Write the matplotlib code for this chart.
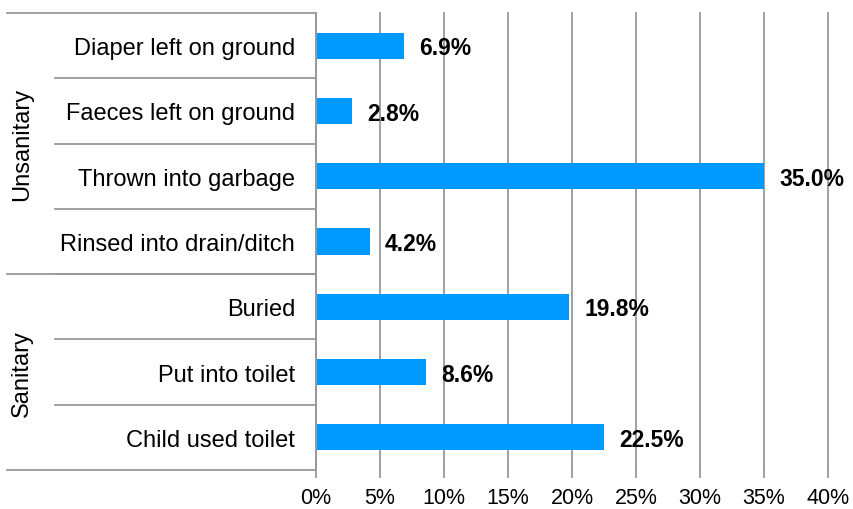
import matplotlib
matplotlib.use('Agg')
import matplotlib.pyplot as plt
import matplotlib.transforms as mtransforms
import numpy as np

# Disposal of child faeces, listed bottom to top
categories = ['Child used toilet', 'Put into toilet', 'Buried',
              'Rinsed into drain/ditch', 'Thrown into garbage',
              'Faeces left on ground', 'Diaper left on ground']
shares = [22.5, 8.6, 19.8, 4.2, 35.0, 2.8, 6.9]
groups = ['Sanitary', 'Unsanitary']
group_sizes = [3, 4]
xticks = np.arange(0, 45, 5)

plt.rcParams['font.family'] = ['Liberation Sans', 'DejaVu Sans']

fig = plt.figure(figsize=(8.54, 5.10), dpi=100)
ax = fig.add_axes([0.370, 0.0765, 0.5996, 0.896])

grey = '#999999'
y = np.arange(len(categories))
ax.barh(y, shares, height=0.4, color='#0099FF', zorder=2)

for yi, v in zip(y, shares):
    ax.annotate('{:.1f}%'.format(v), xy=(v, yi), xytext=(11, -1.5),
                textcoords='offset points', ha='left', va='center',
                fontsize=16.5, fontweight='bold', zorder=3)

ax.set_xlim(0, 40)
ax.set_ylim(-0.5, len(categories) - 0.5)
ax.set_xticks(xticks)
ax.set_xticklabels(['{}%'.format(t) for t in xticks], fontsize=15.5)
ax.set_yticks(y)
ax.set_yticklabels(categories, fontsize=17)
ax.grid(axis='x', color=grey, lw=1.3, zorder=0)
for gl in ax.get_xgridlines():
    gl.set_clip_on(False)
ax.tick_params(axis='x', length=6, width=1.3, color=grey, pad=6)
ax.tick_params(axis='y', length=0, pad=15)

for side in ['top', 'right', 'bottom']:
    ax.spines[side].set_visible(False)
ax.spines['left'].set_color(grey)
ax.spines['left'].set_linewidth(1.3)

# Row separators and group brackets on the left
trans = mtransforms.blended_transform_factory(ax.transAxes, ax.transData)
for b in y[:-1] + 0.5:
    ax.plot([-0.51, 0], [b, b], color=grey, lw=1.3, transform=trans, clip_on=False)

start = -0.5
for name, n in zip(groups, group_sizes):
    ax.plot([-0.6035, 0], [start, start], color=grey, lw=1.3,
            transform=trans, clip_on=False)
    ax.text(-0.574, start + n / 2, name, rotation=90, ha='center', va='center',
            fontsize=17, transform=trans)
    start += n
ax.plot([-0.6035, 0], [start, start], color=grey, lw=1.3,
        transform=trans, clip_on=False)

fig.savefig('out.png', dpi=100)
